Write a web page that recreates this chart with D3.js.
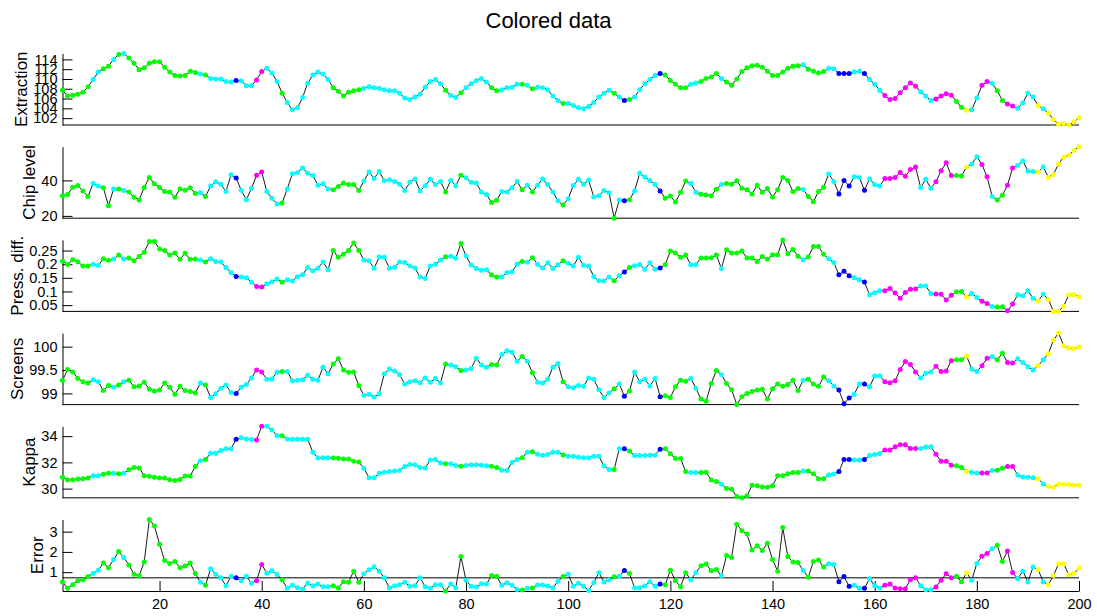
<!DOCTYPE html>
<html>
<head>
<meta charset="utf-8">
<script src="https://cdn.jsdelivr.net/npm/d3@7"></script>
<style>
  html, body { margin: 0; padding: 0; background: #fff; }
  svg { display: block; font-family: "Liberation Sans", Arial, Helvetica, sans-serif; }
</style>
</head>
<body>
<svg id="chart" width="1097" height="616"></svg>
<script>
// Sample index runs 1..200
const sampleCount = 200;

// Operating-state class of each sample (g, c, b, m, y), shared by all six signals
const stateClasses = (
  "ggggggccgg" + "cgcggggggg" + "gggggggcgc" + "ccccbcccmm" + "cccgcccccc" +
  "cccggggggc" + "cccccccccc" + "cccccgccgc" + "ccccggcccc" + "gcgcccccgc" +
  "ccccccccgc" + "bgcccccbgg" + "gggccggggc" + "gggggggggg" + "gggggcgggg" +
  "ccbbbccbcc" + "cmmmmmmmcc" + "cmmmmggycc" + "mmcggmmccc" + "cycyyyyyyy"
).split("");

const extraction = [
  107.7, 106.5, 106.7, 106.9, 107.3, 108.4, 109.9, 111.4, 112.1, 112.6,
  114.0, 115.0, 115.2, 114.3, 113.2, 111.9, 112.3, 113.2, 113.5, 113.5,
  112.4, 111.4, 110.7, 110.6, 110.7, 111.6, 111.3, 111.0, 110.8, 110.1,
  110.0, 110.0, 109.5, 109.4, 109.7, 109.6, 108.6, 108.6, 109.8, 111.5,
  112.2, 111.2, 109.5, 107.1, 105.2, 103.7, 104.1, 106.2, 109.1, 110.8,
  111.4, 111.0, 109.9, 108.2, 107.5, 106.5, 107.3, 107.6, 107.8, 108.1,
  108.4, 108.2, 108.1, 107.8, 107.6, 107.6, 107.1, 106.1, 105.8, 106.3,
  106.9, 108.3, 109.5, 109.9, 109.0, 107.7, 106.6, 106.2, 107.2, 108.2,
  109.0, 109.7, 110.1, 109.4, 108.2, 107.6, 107.8, 108.2, 108.3, 108.9,
  108.9, 108.7, 108.0, 108.3, 108.2, 107.8, 106.5, 105.6, 105.0, 105.0,
  104.6, 104.1, 103.9, 104.4, 105.2, 106.3, 107.1, 107.7, 107.1, 106.3,
  105.6, 105.8, 106.3, 107.8, 109.0, 109.9, 110.7, 111.1, 110.8, 109.7,
  108.9, 108.2, 108.2, 108.9, 109.2, 109.5, 110.1, 110.4, 111.1, 110.1,
  109.4, 108.7, 110.0, 111.5, 112.3, 112.7, 112.8, 112.4, 111.6, 110.7,
  110.7, 111.4, 112.2, 112.6, 112.7, 112.9, 112.0, 111.6, 111.2, 111.5,
  112.2, 112.1, 111.1, 111.1, 111.1, 111.4, 111.6, 111.1, 109.9, 108.9,
  107.7, 106.6, 105.8, 106.0, 107.2, 108.2, 109.2, 108.5, 107.4, 106.5,
  105.6, 105.9, 106.5, 107.0, 106.7, 105.4, 104.2, 103.6, 103.7, 106.1,
  108.7, 109.5, 109.1, 107.6, 105.6, 104.9, 104.5, 104.0, 105.1, 107.1,
  106.3, 104.6, 103.9, 103.0, 101.7, 100.8, 100.9, 100.6, 101.2, 102.1
];

const chipLevel = [
  31.4, 32.0, 36.2, 37.1, 34.1, 31.0, 38.3, 36.8, 35.8, 25.7,
  35.2, 35.2, 34.3, 33.5, 30.5, 29.0, 36.0, 41.7, 38.1, 36.0,
  33.7, 33.5, 30.5, 35.2, 34.5, 35.8, 32.6, 33.1, 31.0, 36.8,
  39.2, 37.9, 33.7, 43.2, 41.3, 34.3, 29.1, 35.6, 42.9, 44.8,
  33.7, 29.9, 26.7, 27.2, 35.2, 43.8, 44.4, 47.0, 44.0, 42.7,
  37.3, 38.1, 35.2, 34.7, 36.6, 38.5, 37.7, 37.7, 34.3, 39.6,
  44.8, 41.1, 45.0, 39.8, 40.4, 39.4, 37.9, 34.3, 38.9, 40.8,
  34.1, 37.0, 40.6, 37.7, 39.4, 33.5, 40.0, 37.0, 42.9, 41.5,
  38.9, 38.5, 33.5, 32.0, 27.6, 28.8, 33.7, 33.5, 35.8, 39.4,
  34.7, 37.3, 33.5, 37.3, 40.8, 37.7, 33.5, 28.5, 26.1, 29.7,
  37.1, 40.6, 37.9, 40.2, 30.7, 31.4, 34.3, 33.0, 18.7, 29.0,
  28.6, 29.1, 34.1, 44.0, 41.9, 40.0, 37.7, 34.1, 29.9, 31.2,
  27.8, 33.3, 39.6, 38.3, 33.3, 32.2, 31.8, 31.4, 35.0, 37.7,
  38.3, 37.9, 39.8, 35.6, 34.7, 32.4, 37.3, 33.3, 35.4, 30.7,
  34.7, 41.7, 40.0, 33.7, 35.4, 34.9, 31.0, 28.0, 33.7, 36.2,
  43.6, 39.4, 32.4, 40.0, 36.8, 42.1, 41.7, 34.5, 40.8, 37.7,
  36.8, 41.1, 41.1, 41.7, 44.4, 42.3, 46.1, 47.6, 36.0, 40.6,
  35.6, 39.2, 45.5, 49.9, 42.7, 42.7, 42.5, 47.6, 49.3, 53.3,
  49.0, 42.1, 31.0, 29.0, 31.6, 37.3, 47.0, 48.4, 51.0, 45.3,
  45.0, 44.8, 47.6, 41.7, 43.4, 49.3, 53.1, 54.3, 56.8, 59.0
];

const pressDiff = [
  0.211, 0.199, 0.216, 0.209, 0.193, 0.193, 0.200, 0.195, 0.220, 0.214,
  0.219, 0.234, 0.219, 0.223, 0.213, 0.228, 0.244, 0.283, 0.283, 0.256,
  0.250, 0.234, 0.241, 0.218, 0.240, 0.218, 0.219, 0.215, 0.208, 0.220,
  0.210, 0.208, 0.188, 0.169, 0.155, 0.153, 0.150, 0.134, 0.118, 0.116,
  0.128, 0.136, 0.146, 0.134, 0.143, 0.138, 0.154, 0.161, 0.188, 0.176,
  0.185, 0.208, 0.180, 0.250, 0.225, 0.236, 0.250, 0.278, 0.250, 0.215,
  0.213, 0.185, 0.226, 0.225, 0.185, 0.189, 0.208, 0.206, 0.194, 0.186,
  0.153, 0.148, 0.193, 0.200, 0.215, 0.227, 0.229, 0.222, 0.276, 0.230,
  0.197, 0.184, 0.178, 0.180, 0.160, 0.153, 0.153, 0.170, 0.172, 0.200,
  0.210, 0.207, 0.224, 0.200, 0.186, 0.205, 0.184, 0.198, 0.213, 0.203,
  0.193, 0.225, 0.196, 0.193, 0.155, 0.139, 0.138, 0.153, 0.139, 0.158,
  0.171, 0.188, 0.194, 0.199, 0.181, 0.205, 0.181, 0.186, 0.199, 0.248,
  0.241, 0.225, 0.234, 0.198, 0.198, 0.223, 0.223, 0.224, 0.234, 0.184,
  0.253, 0.241, 0.241, 0.248, 0.223, 0.223, 0.210, 0.228, 0.218, 0.235,
  0.235, 0.289, 0.238, 0.254, 0.229, 0.216, 0.226, 0.265, 0.265, 0.236,
  0.220, 0.206, 0.161, 0.174, 0.158, 0.150, 0.143, 0.135, 0.088, 0.095,
  0.103, 0.103, 0.111, 0.094, 0.075, 0.096, 0.108, 0.109, 0.120, 0.120,
  0.093, 0.091, 0.090, 0.069, 0.086, 0.099, 0.100, 0.080, 0.093, 0.078,
  0.064, 0.056, 0.045, 0.043, 0.044, 0.029, 0.054, 0.088, 0.084, 0.103,
  0.075, 0.065, 0.090, 0.071, 0.027, 0.027, 0.046, 0.088, 0.088, 0.081
];

const screens = [
  99.28, 99.51, 99.46, 99.32, 99.25, 99.22, 99.29, 99.25, 99.06, 99.17,
  99.13, 99.18, 99.25, 99.28, 99.14, 99.16, 99.24, 99.09, 99.05, 99.07,
  99.22, 99.13, 98.98, 99.15, 99.06, 99.04, 99.01, 99.22, 99.18, 98.91,
  98.99, 99.11, 99.18, 99.02, 99.00, 99.13, 99.19, 99.33, 99.50, 99.46,
  99.30, 99.31, 99.45, 99.47, 99.47, 99.27, 99.28, 99.29, 99.39, 99.30,
  99.28, 99.56, 99.42, 99.63, 99.74, 99.50, 99.45, 99.46, 99.17, 98.96,
  98.98, 98.92, 98.99, 99.42, 99.52, 99.48, 99.40, 99.20, 99.25, 99.27,
  99.23, 99.33, 99.24, 99.32, 99.22, 99.63, 99.61, 99.57, 99.49, 99.50,
  99.53, 99.75, 99.61, 99.56, 99.62, 99.61, 99.83, 99.91, 99.88, 99.69,
  99.79, 99.69, 99.44, 99.24, 99.22, 99.30, 99.56, 99.64, 99.25, 99.14,
  99.12, 99.17, 99.15, 99.33, 99.30, 99.08, 98.91, 99.01, 99.10, 99.20,
  98.94, 99.05, 99.45, 99.25, 99.30, 99.16, 99.32, 98.93, 98.95, 98.91,
  99.14, 99.28, 99.26, 99.32, 99.11, 98.88, 98.83, 99.21, 99.49, 99.40,
  99.21, 99.08, 98.76, 98.93, 99.00, 99.04, 99.07, 99.09, 98.88, 99.10,
  99.20, 99.15, 99.19, 99.28, 99.06, 99.28, 99.30, 99.20, 99.15, 99.35,
  99.27, 99.16, 99.07, 98.78, 98.90, 98.98, 99.20, 99.20, 99.14, 99.37,
  99.38, 99.25, 99.23, 99.27, 99.51, 99.68, 99.62, 99.46, 99.33, 99.43,
  99.46, 99.58, 99.47, 99.48, 99.70, 99.72, 99.72, 99.80, 99.52, 99.47,
  99.59, 99.75, 99.79, 99.72, 99.86, 99.66, 99.65, 99.74, 99.66, 99.57,
  99.50, 99.59, 99.72, 99.85, 100.14, 100.29, 100.02, 99.97, 99.96, 99.99
];

const kappa = [
  30.86, 30.65, 30.68, 30.73, 30.75, 30.81, 30.99, 30.99, 31.09, 31.17,
  31.17, 31.14, 31.17, 31.43, 31.61, 31.58, 30.99, 30.94, 30.86, 30.81,
  30.81, 30.68, 30.62, 30.70, 30.96, 30.96, 31.69, 32.13, 32.21, 32.70,
  32.70, 32.91, 33.04, 33.04, 33.77, 33.87, 33.79, 33.74, 33.71, 34.75,
  34.75, 34.47, 34.05, 34.03, 33.79, 33.77, 33.77, 33.77, 33.77, 32.78,
  32.34, 32.36, 32.36, 32.34, 32.31, 32.26, 32.26, 32.08, 32.03, 31.56,
  30.83, 30.83, 31.17, 31.25, 31.30, 31.35, 31.38, 31.69, 31.84, 31.82,
  31.61, 31.58, 32.18, 32.21, 31.95, 31.90, 31.90, 31.77, 31.71, 31.77,
  31.82, 31.82, 31.79, 31.74, 31.71, 31.61, 31.40, 31.38, 32.00, 32.21,
  32.36, 32.78, 32.81, 32.62, 32.55, 32.60, 32.78, 32.78, 32.57, 32.47,
  32.47, 32.39, 32.36, 32.36, 32.47, 32.47, 31.74, 31.45, 31.45, 33.04,
  33.04, 32.86, 32.52, 32.52, 32.52, 32.55, 32.55, 33.01, 33.04, 32.65,
  32.29, 32.29, 31.30, 31.22, 31.22, 31.22, 31.25, 30.65, 30.55, 30.34,
  30.00, 29.95, 29.40, 29.30, 29.45, 30.26, 30.21, 30.13, 30.10, 30.21,
  30.99, 30.99, 31.14, 31.22, 31.22, 31.35, 31.35, 31.14, 30.75, 30.75,
  31.04, 31.12, 31.30, 32.21, 32.21, 32.18, 32.18, 32.21, 32.52, 32.60,
  32.68, 32.94, 32.94, 33.19, 33.35, 33.35, 33.06, 33.06, 33.06, 33.17,
  33.19, 32.62, 32.08, 32.08, 31.79, 31.74, 31.61, 31.32, 31.25, 31.19,
  31.19, 31.19, 31.38, 31.40, 31.56, 31.69, 31.69, 31.04, 30.88, 30.86,
  30.83, 30.75, 30.36, 30.16, 30.10, 30.34, 30.34, 30.31, 30.26, 30.26
];

const errorValues = [
  0.52, 0.20, 0.38, 0.58, 0.63, 0.78, 0.93, 1.10, 1.45, 1.22,
  1.62, 2.02, 1.72, 1.35, 0.90, 0.82, 1.50, 3.60, 3.28, 2.38,
  1.57, 1.43, 1.53, 1.22, 1.30, 1.45, 0.93, 0.50, 0.35, 1.17,
  0.90, 0.72, 0.33, 0.80, 0.72, 0.57, 0.80, 0.45, 0.58, 1.38,
  0.95, 1.07, 0.88, 0.62, 0.20, 0.35, 0.23, 0.17, 0.45, 0.33,
  0.42, 0.28, 0.28, 0.33, 0.22, 0.53, 0.50, 1.05, 0.50, 0.92,
  1.12, 1.27, 1.05, 0.72, 0.22, 0.33, 0.38, 0.50, 0.30, 0.33,
  0.73, 0.28, 0.20, 0.38, 0.38, 0.07, 0.42, 0.23, 1.77, 0.60,
  0.30, 0.27, 0.43, 0.42, 0.83, 0.80, 0.35, 0.48, 0.35, 0.15,
  0.12, 0.20, 0.22, 0.37, 0.37, 0.32, 0.22, 0.55, 0.78, 0.90,
  0.30, 0.45, 0.30, 0.10, 0.48, 0.97, 0.52, 0.62, 0.77, 0.80,
  1.08, 0.93, 0.23, 0.23, 0.32, 0.53, 0.30, 0.42, 0.38, 1.10,
  0.58, 0.28, 0.97, 0.63, 0.97, 1.32, 1.40, 1.07, 1.13, 0.82,
  1.82, 1.73, 3.37, 3.05, 2.88, 2.10, 2.30, 2.07, 2.43, 1.62,
  1.05, 3.20, 1.77, 1.50, 1.48, 1.08, 0.75, 1.53, 1.60, 1.25,
  1.42, 1.38, 0.53, 0.78, 0.30, 0.35, 0.20, 0.20, 0.68, 0.33,
  0.22, 0.35, 0.42, 0.22, 0.18, 0.18, 0.63, 0.73, 0.33, 0.13,
  0.13, 0.27, 0.60, 0.92, 0.73, 0.80, 0.53, 0.97, 0.60, 1.43,
  1.78, 1.92, 2.15, 2.33, 1.53, 2.05, 0.98, 0.68, 1.05, 0.52,
  1.25, 1.13, 0.52, 0.38, 0.83, 1.42, 1.42, 0.87, 0.93, 1.20
];

// Alarm limit drawn across the error panel
const errorLimit = 0.72;

// Tick labels
const extractionTicks = [102, 104, 106, 108, 110, 112, 114];
const chipTicks = [20, 40];
const pressTicks = [0.05, 0.1, 0.15, 0.2, 0.25];
const screensTicks = [99, 99.5, 100];
const kappaTicks = [30, 32, 34];
const errorTicks = [1, 2, 3];
const sampleTicks = [20, 40, 60, 80, 100, 120, 140, 160, 180, 200];

const panelLabels = ["Extraction", "Chip level", "Press. diff.", "Screens", "Kappa", "Error"];
const panelSeries = [extraction, chipLevel, pressDiff, screens, kappa, errorValues];
const panelTicks = [extractionTicks, chipTicks, pressTicks, screensTicks, kappaTicks, errorTicks];

const stateColors = { g: "#00ff00", c: "#00ffff", b: "#0000ff", m: "#ff00ff", y: "#ffff00" };

// ---- layout ----
const svg = d3.select("#chart");
const W = 1097;
const plotLeft = 62.5, plotRight = 1079;
const firstBottom = 125, panelStep = 93.2, panelHeight = 71.5;
const tickFont = "14.5px", labelFont = "17px";

const x = d3.scaleLinear().domain([1, sampleCount]).range([plotLeft, plotRight]);
const indices = d3.range(1, sampleCount + 1);

svg.append("text")
  .attr("x", W / 2).attr("y", 28)
  .attr("text-anchor", "middle")
  .style("font-size", "22px")
  .text("Colored data");

panelSeries.forEach((vals, k) => {
  const bottom = firstBottom + k * panelStep;
  const top = bottom - panelHeight;
  const y = d3.scaleLinear().domain(d3.extent(vals)).range([bottom, top]);
  const g = svg.append("g");

  // y axis with inward ticks
  const yAxis = g.append("g")
    .attr("transform", `translate(${plotLeft},0)`)
    .call(d3.axisLeft(y).tickValues(panelTicks[k]).tickFormat(d => String(d))
      .tickSize(-10).tickSizeOuter(0).tickPadding(5));
  yAxis.select(".domain").attr("stroke", "#000");
  yAxis.selectAll(".tick line").attr("stroke", "#000");
  yAxis.selectAll(".tick text")
    .attr("fill", "#000")
    .style("font-size", tickFont)
    .style("font-family", "'Liberation Sans', Arial, sans-serif");

  // bottom edge
  const xAxis = g.append("g").attr("transform", `translate(0,${bottom})`);
  if (k === panelSeries.length - 1) {
    xAxis.call(d3.axisBottom(x).tickValues(sampleTicks).tickFormat(d => String(d))
      .tickSize(-10).tickSizeOuter(0).tickPadding(8));
    xAxis.selectAll(".tick text")
      .attr("fill", "#000")
      .style("font-size", tickFont)
      .style("font-family", "'Liberation Sans', Arial, sans-serif");
    xAxis.selectAll(".tick line").attr("stroke", "#000");
    xAxis.select(".domain").attr("stroke", "#000");
  } else {
    xAxis.append("line")
      .attr("x1", plotLeft).attr("x2", plotRight)
      .attr("stroke", "#000");
  }

  // y label placed left of the widest tick label
  let minX = 0;
  yAxis.selectAll(".tick text").each(function () {
    const b = this.getBBox();
    minX = Math.min(minX, b.x);
  });
  g.append("text")
    .attr("transform", `translate(${plotLeft + minX - 6},${(top + bottom) / 2}) rotate(-90)`)
    .attr("text-anchor", "middle")
    .style("font-size", labelFont)
    .text(panelLabels[k]);

  if (k === panelSeries.length - 1) {
    g.append("line")
      .attr("x1", plotLeft).attr("x2", plotRight)
      .attr("y1", y(errorLimit)).attr("y2", y(errorLimit))
      .attr("stroke", "#000");
  }

  // trace
  g.append("path")
    .datum(indices)
    .attr("fill", "none")
    .attr("stroke", "#000")
    .attr("stroke-width", 0.9)
    .attr("d", d3.line().x(i => x(i)).y(i => y(vals[i - 1])));

  // state-coloured markers
  g.append("g").selectAll("circle")
    .data(indices)
    .join("circle")
    .attr("cx", i => x(i))
    .attr("cy", i => y(vals[i - 1]))
    .attr("r", 2.5)
    .attr("fill", i => stateColors[stateClasses[i - 1]]);
});
</script>
</body>
</html>
